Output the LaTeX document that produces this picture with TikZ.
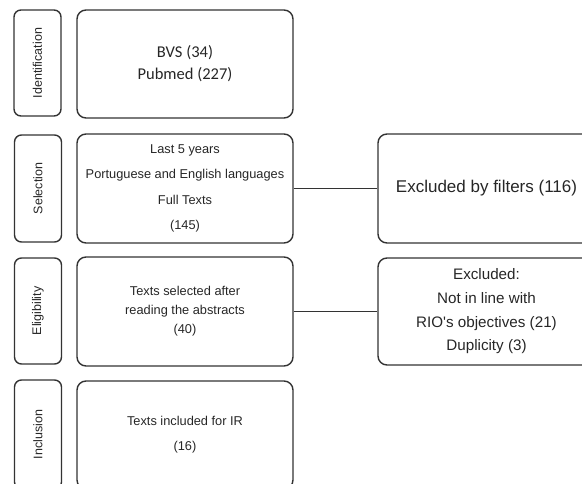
\documentclass[tikz,border=0pt]{standalone}
\usepackage{fontspec}
\setmainfont{Liberation Sans}
\newfontfamily\carlito{Carlito}
\usepackage{tikz}

\begin{document}
\begin{tikzpicture}[x=1pt,y=-1pt,
  stagelabel/.style={draw=black!80,line width=1.4pt,rounded corners=7pt,rotate=90,
    minimum height=47pt,inner sep=0pt,text=black!85,font=\fontsize{12.5}{15}\selectfont},
  stepbox/.style={draw=black!80,line width=1.4pt,rounded corners=9pt,minimum width=216pt,
    inner sep=0pt,align=center,text=black!85},
  link/.style={draw=black!80,line width=1.4pt}]
  \clip (0,0) rectangle (582,484);

  \node[stagelabel,minimum width=106pt] (identlabel) at (37.5,63) {Identification};
  \node[stagelabel,minimum width=107pt] (sellabel) at (38,188.5) {Selection};
  \node[stagelabel,minimum width=106pt] (eliglabel) at (38,311) {Eligibility};
  \node[stagelabel,minimum width=109pt] (incllabel) at (38,434.5) {Inclusion};

  \node[stepbox,minimum height=108pt,font=\carlito\fontsize{16.5}{22}\selectfont] (sources) at (185,64)
    {BVS (34)\\Pubmed (227)};
  \node[stepbox,minimum height=109pt,font=\fontsize{12.8}{25.3}\selectfont] (filters) at (185,188.5)
    {Last 5 years\\Portuguese and English languages\\Full Texts\\(145)};
  \node[stepbox,minimum height=109pt,font=\fontsize{12.8}{19}\selectfont] (abstracts) at (185,311.5)
    {Texts selected after\\reading the abstracts\\(40)};
  \node[stepbox,minimum height=108pt,font=\fontsize{12.8}{25}\selectfont] (included) at (185,435)
    {Texts included for IR\\(16)};

  \node[stepbox,minimum width=217pt,minimum height=109pt,font=\fontsize{17}{20}\selectfont] (byfilters) at (486.5,188.5)
    {Excluded by filters (116)};
  \node[stepbox,minimum width=217pt,minimum height=107pt,font=\fontsize{15.2}{23.7}\selectfont] (excluded) at (486.5,311.5)
    {Excluded:\\Not in line with\\RIO\textquotesingle s objectives (21)\\Duplicity (3)};

  \draw[link] (filters.east) -- (byfilters.west);
  \draw[link] (abstracts.east) -- (excluded.west);
\end{tikzpicture}
\end{document}
